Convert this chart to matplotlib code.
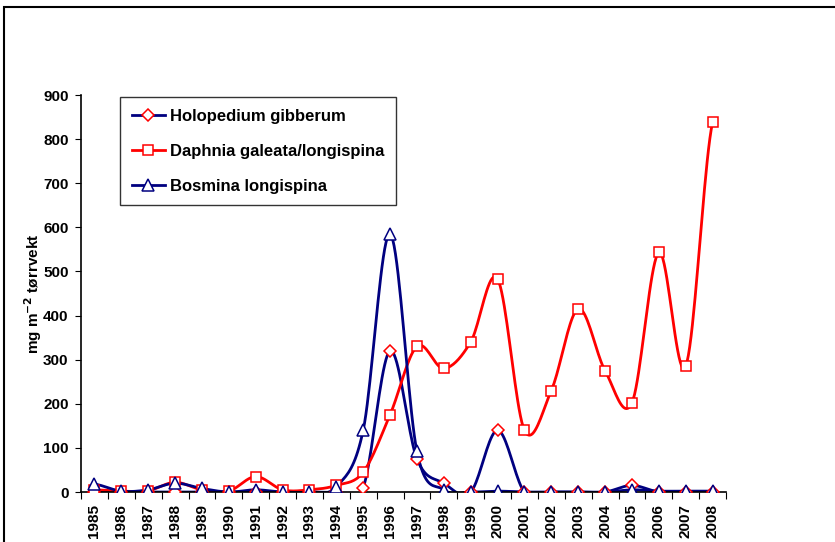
import numpy as np
import matplotlib
matplotlib.use("Agg")
import matplotlib.pyplot as plt
from matplotlib.patches import Rectangle

plt.rcParams["font.family"] = ["Liberation Sans", "DejaVu Sans"]
plt.rcParams["font.weight"] = "bold"

years = list(range(1985, 2009))
holopedium = [0, 0, 0, 0, 0, 0, 0, 0, 0, 0, 10, 320, 75, 20, 0, 140,
              0, 0, 0, 0, 15, 0, 0, 0]
daphnia = [5, 2, 3, 22, 5, 2, 35, 5, 5, 15, 45, 175, 330, 280, 340, 483,
           140, 230, 415, 275, 202, 543, 285, 838]
bosmina = [18, 2, 5, 20, 8, 0, 5, 0, 0, 12, 140, 585, 92, 5, 0, 2,
           0, 0, 0, 0, 5, 2, 2, 2]


def smooth(x, y, n=20):
    # Catmull-Rom spline, close to Excel's smoothed line
    x = np.asarray(x, float)
    y = np.asarray(y, float)
    px = np.concatenate([[2 * x[0] - x[1]], x, [2 * x[-1] - x[-2]]])
    py = np.concatenate([[y[0]], y, [y[-1]]])
    xs, ys = [], []
    t = np.linspace(0, 1, n, endpoint=False)
    for i in range(1, len(px) - 2):
        p0, p1, p2, p3 = py[i - 1], py[i], py[i + 1], py[i + 2]
        q0, q1, q2, q3 = px[i - 1], px[i], px[i + 1], px[i + 2]
        cr = lambda a0, a1, a2, a3: 0.5 * ((2 * a1) + (-a0 + a2) * t
                                           + (2 * a0 - 5 * a1 + 4 * a2 - a3) * t ** 2
                                           + (-a0 + 3 * a1 - 3 * a2 + a3) * t ** 3)
        xs.append(cr(q0, q1, q2, q3))
        ys.append(cr(p0, p1, p2, p3))
    xs.append([x[-1]])
    ys.append([y[-1]])
    return np.concatenate(xs), np.concatenate(ys)


navy = "#000080"
red = "#FF0000"

fig = plt.figure(figsize=(8.35, 5.42), dpi=100)
ax = fig.add_axes([81 / 835, 50 / 542, 645 / 835, 397 / 542])

xpos = np.arange(len(years)) + 0.5

series = [
    ("Holopedium gibberum", holopedium, navy, "D", red, 6.5),
    ("Daphnia galeata/longispina", daphnia, red, "s", red, 7),
    ("Bosmina longispina", bosmina, navy, "^", navy, 8),
]
handles = []
for name, vals, lc, mk, mc, ms in series:
    sx, sy = smooth(xpos, vals)
    ax.plot(sx, sy, color=lc, lw=2, zorder=2)
    ax.plot(xpos, vals, ls="none", marker=mk, ms=ms, mfc="white",
            mec=mc, mew=1.1, zorder=3)
    h, = ax.plot([], [], color=lc, lw=2, marker=mk, ms=ms, mfc="white",
                 mec=mc, mew=1.1)
    handles.append((h, name))

ax.set_xlim(0, len(years))
ax.set_ylim(0, 900)
ax.set_yticks(range(0, 901, 100))
ax.set_xticks(np.arange(len(years) + 1), minor=False)
ax.set_xticklabels([])
ax.set_xticks(xpos, minor=True)
ax.set_xticklabels([str(y) for y in years], minor=True, rotation=90,
                   fontsize=11, fontweight="bold")
ax.tick_params(axis="x", which="minor", length=0, pad=9)
ax.tick_params(axis="x", which="major", length=5, direction="out")
ax.tick_params(axis="y", length=4, direction="out", labelsize=11, pad=5)
for lab in ax.get_yticklabels():
    lab.set_fontweight("bold")
for s in ["top", "right"]:
    ax.spines[s].set_visible(False)
ax.spines["left"].set_linewidth(1.2)
ax.spines["bottom"].set_linewidth(1.2)

ax.set_ylabel("mg m$^{\\mathbf{-2}}$ tørrvekt", fontsize=11, fontweight="bold",
              labelpad=-0.5)

leg = ax.legend([h for h, _ in handles], [n for _, n in handles],
                loc="upper left", bbox_to_anchor=(39 / 645, 395 / 397),
                borderaxespad=0, fontsize=12, frameon=True, fancybox=False,
                handlelength=2.0, labelspacing=1.2, borderpad=0.7,
                handletextpad=0.3)
leg.get_frame().set_edgecolor("black")
leg.get_frame().set_linewidth(1)
for t in leg.get_texts():
    t.set_fontweight("bold")

fig.patches.append(Rectangle((4 / 835, -0.1), 1.2, (542 - 7) / 542 + 0.1,
                             transform=fig.transFigure, fill=False,
                             edgecolor="black", lw=1.5))

fig.savefig("out.png", dpi=100)
